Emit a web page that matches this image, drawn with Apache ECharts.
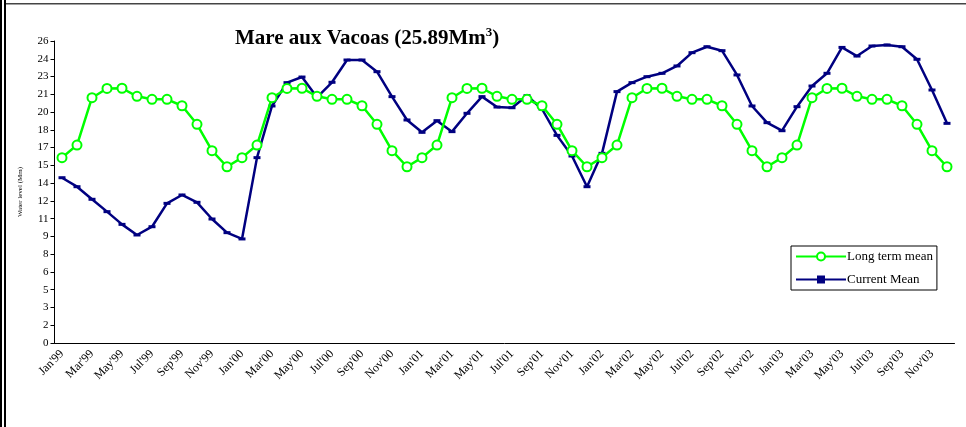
<!DOCTYPE html>
<html>
<head>
<meta charset="utf-8">
<script src="https://cdn.jsdelivr.net/npm/echarts@6/dist/echarts.min.js"></script>
<style>
  html, body { margin: 0; padding: 0; background: #fff; }
  #chart { width: 966px; height: 427px; }
</style>
</head>
<body>
<div id="chart"></div>
<script>
// months Jan'99 .. Dec'03
const months = [
  "Jan'99","Feb'99","Mar'99","Apr'99","May'99","Jun'99","Jul'99","Aug'99","Sep'99","Oct'99","Nov'99","Dec'99",
  "Jan'00","Feb'00","Mar'00","Apr'00","May'00","Jun'00","Jul'00","Aug'00","Sep'00","Oct'00","Nov'00","Dec'00",
  "Jan'01","Feb'01","Mar'01","Apr'01","May'01","Jun'01","Jul'01","Aug'01","Sep'01","Oct'01","Nov'01","Dec'01",
  "Jan'02","Feb'02","Mar'02","Apr'02","May'02","Jun'02","Jul'02","Aug'02","Sep'02","Oct'02","Nov'02","Dec'02",
  "Jan'03","Feb'03","Mar'03","Apr'03","May'03","Jun'03","Jul'03","Aug'03","Sep'03","Oct'03","Nov'03","Dec'03"
];

// long term mean, same seasonal curve each year
const longTermMean = [
  15.89, 16.97, 21.03, 21.82, 21.84, 21.15, 20.89, 20.89, 20.34, 18.75, 16.49, 15.11,
  15.89, 16.97, 21.03, 21.82, 21.84, 21.15, 20.89, 20.89, 20.34, 18.75, 16.49, 15.11,
  15.89, 16.97, 21.03, 21.82, 21.84, 21.15, 20.89, 20.89, 20.34, 18.75, 16.49, 15.11,
  15.89, 16.97, 21.03, 21.82, 21.84, 21.15, 20.89, 20.89, 20.34, 18.75, 16.49, 15.11,
  15.89, 16.97, 21.03, 21.82, 21.84, 21.15, 20.89, 20.89, 20.34, 18.75, 16.49, 15.11
];

const currentMean = [
  14.17, 13.40, 12.32, 11.26, 10.17, 9.26, 9.97, 11.97, 12.69, 12.06, 10.63, 9.46,
  8.92, 15.89, 20.32, 22.32, 22.80, 21.06, 22.35, 24.26, 24.26, 23.26, 21.12, 19.12,
  18.06, 19.06, 18.12, 19.69, 21.12, 20.23, 20.17, 21.20, 20.06, 17.80, 16.03, 13.40,
  16.26, 21.55, 22.32, 22.83, 23.12, 23.75, 24.89, 25.40, 25.06, 22.98, 20.32, 18.89,
  18.20, 20.26, 22.03, 23.12, 25.34, 24.60, 25.46, 25.55, 25.40, 24.32, 21.69, 18.83
];

const capacity = 25.89;   // reservoir capacity, top of the axis
const tickCount = 17;

const serif = 'Liberation Serif';
const dash = 'path://M0,0 L7,0 L7,3 L0,3 Z';
const chart = echarts.init(document.getElementById('chart'));

chart.setOption({
  animation: false,
  backgroundColor: '#fff',
  title: {
    left: 230,
    top: 21,
    text: '{t|Mare aux Vacoas (25.89Mm}{s|3}{t|)}',
    textStyle: {
      rich: {
        t: { fontFamily: serif, fontWeight: 'bold', fontSize: 21, color: '#000' },
        s: { fontFamily: serif, fontWeight: 'bold', fontSize: 13, color: '#000', verticalAlign: 'top', padding: [0, 0, 12, 0] }
      }
    }
  },
  legend: {
    orient: 'vertical',
    left: 791,
    top: 246,
    padding: [4, 4, 4, 4],
    itemGap: 10,
    itemWidth: 50,
    itemHeight: 10,
    symbolKeepAspect: true,
    borderColor: '#000',
    borderWidth: 1,
    textStyle: { fontFamily: serif, fontSize: 13, color: '#000', padding: [0, 0, 0, -4] },
    data: ['Long term mean', 'Current Mean']
  },
  grid: { left: 54.5, right: 11.5, top: 41, bottom: 84 },
  xAxis: {
    type: 'category',
    data: months,
    boundaryGap: true,
    axisLine: { lineStyle: { color: '#000', width: 1 } },
    axisTick: { interval: 0, length: 4, lineStyle: { color: '#000' } },
    axisLabel: {
      interval: 1,
      rotate: 45,
      fontFamily: serif,
      fontSize: 12,
      color: '#000',
      margin: 9
    }
  },
  yAxis: {
    type: 'value',
    min: 0,
    max: capacity,
    interval: capacity / tickCount,
    name: 'Water level (Mm)',
    nameLocation: 'middle',
    nameGap: 31,
    nameTextStyle: { fontFamily: serif, fontSize: 7, color: '#000' },
    axisLine: { show: true, lineStyle: { color: '#000', width: 1 } },
    axisTick: { show: true, length: 4, lineStyle: { color: '#000' } },
    splitLine: { show: false },
    axisLabel: {
      fontFamily: serif,
      fontSize: 11,
      color: '#000',
      margin: 6,
      formatter: v => Math.round(v)
    }
  },
  series: [
    {
      name: 'Long term mean',
      type: 'line',
      data: longTermMean,
      z: 3,
      symbol: 'circle',
      symbolSize: 9,
      lineStyle: { color: '#00ff00', width: 2.5 },
      itemStyle: { color: '#fff', borderColor: '#00ff00', borderWidth: 2 }
    },
    {
      name: 'Current Mean',
      type: 'line',
      data: currentMean,
      z: 2,
      symbol: dash,
      symbolKeepAspect: true,
      symbolSize: 7,
      lineStyle: { color: '#000080', width: 2.5 },
      itemStyle: { color: '#000080' }
    }
  ],
  graphic: [
    // frame of the original sheet
    { type: 'rect', shape: { x: 0, y: 0, width: 2, height: 427 }, style: { fill: '#000' } },
    { type: 'rect', shape: { x: 4, y: 0, width: 2, height: 427 }, style: { fill: '#000' } },
    { type: 'rect', shape: { x: 6, y: 3, width: 960, height: 1.5 }, style: { fill: '#444' } }
  ]
});
</script>
</body>
</html>
